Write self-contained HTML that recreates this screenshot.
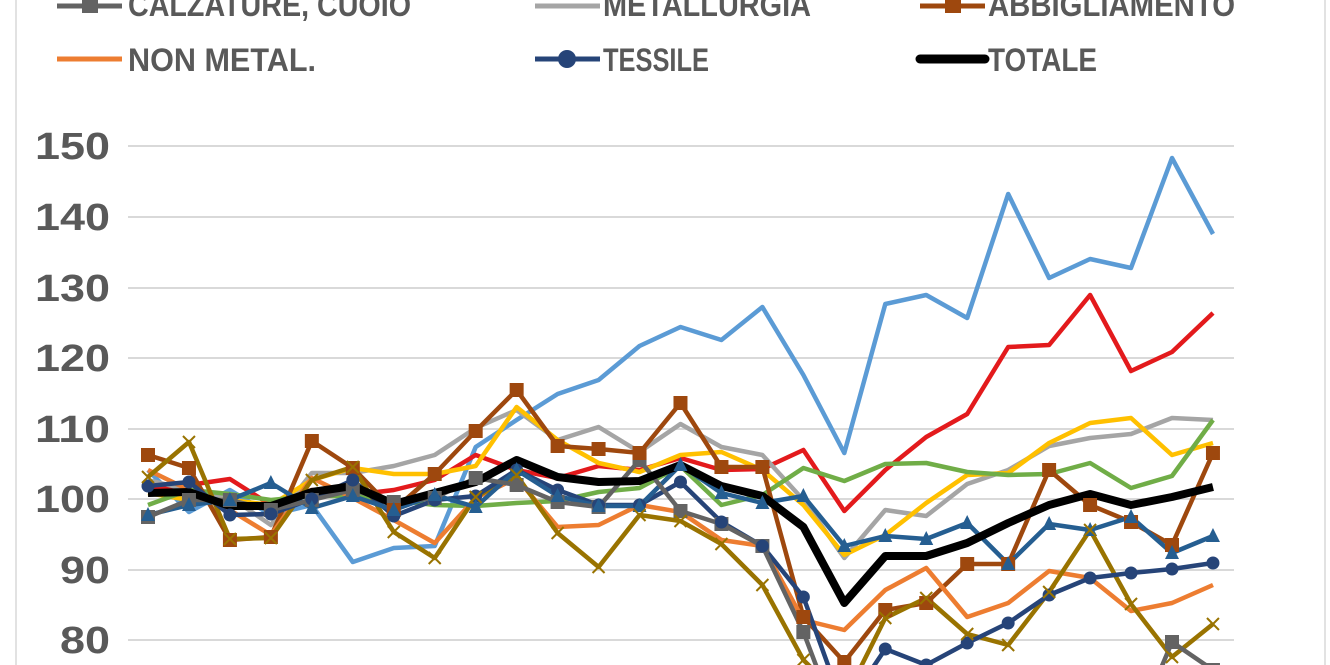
<!DOCTYPE html>
<html><head><meta charset="utf-8"><style>
html,body{margin:0;padding:0;background:#fff;width:1330px;height:665px;overflow:hidden;}
svg{display:block;}
text{font-family:"Liberation Sans",sans-serif;font-weight:bold;fill:#595959;}
</style></head><body>
<svg width="1330" height="665" viewBox="0 0 1330 665" xmlns="http://www.w3.org/2000/svg">
<rect x="0" y="0" width="1330" height="665" fill="#fff"/>
<line x1="16" y1="0" x2="16" y2="665" stroke="#d9d9d9" stroke-width="1.5"/>
<line x1="1325" y1="0" x2="1325" y2="665" stroke="#d9d9d9" stroke-width="1.5"/>
<g stroke="#d9d9d9" stroke-width="2">
<line x1="128" x2="1234" y1="146" y2="146"/>
<line x1="128" x2="1234" y1="217" y2="217"/>
<line x1="128" x2="1234" y1="288" y2="288"/>
<line x1="128" x2="1234" y1="358" y2="358"/>
<line x1="128" x2="1234" y1="429" y2="429"/>
<line x1="128" x2="1234" y1="499" y2="499"/>
<line x1="128" x2="1234" y1="570" y2="570"/>
<line x1="128" x2="1234" y1="640" y2="640"/>
</g>
<g font-size="38">
<text x="35" y="159" textLength="75" lengthAdjust="spacingAndGlyphs">150</text>
<text x="35" y="230" textLength="75" lengthAdjust="spacingAndGlyphs">140</text>
<text x="35" y="301" textLength="75" lengthAdjust="spacingAndGlyphs">130</text>
<text x="35" y="371" textLength="75" lengthAdjust="spacingAndGlyphs">120</text>
<text x="35" y="442" textLength="75" lengthAdjust="spacingAndGlyphs">110</text>
<text x="35" y="512" textLength="75" lengthAdjust="spacingAndGlyphs">100</text>
<text x="60" y="583" textLength="50" lengthAdjust="spacingAndGlyphs">90</text>
<text x="60" y="653" textLength="50" lengthAdjust="spacingAndGlyphs">80</text>
</g>
<g font-size="32">
<line x1="57" x2="122" y1="6" y2="6" stroke="#636363" stroke-width="5"/><rect x="82" y="-3" width="16" height="16" fill="#636363"/>
<text x="128" y="16" textLength="283" lengthAdjust="spacingAndGlyphs">CALZATURE, CUOIO</text>
<line x1="535" x2="600" y1="6" y2="6" stroke="#a5a5a5" stroke-width="5"/>
<text x="603" y="16" textLength="208" lengthAdjust="spacingAndGlyphs">METALLURGIA</text>
<line x1="920" x2="985" y1="6" y2="6" stroke="#9e480e" stroke-width="5"/><rect x="945" y="-3" width="16" height="16" fill="#9e480e"/>
<text x="988" y="16" textLength="247" lengthAdjust="spacingAndGlyphs">ABBIGLIAMENTO</text>
<line x1="57" x2="122" y1="59" y2="59" stroke="#ed7d31" stroke-width="5"/>
<text x="128" y="71" textLength="188" lengthAdjust="spacingAndGlyphs">NON METAL.</text>
<line x1="535" x2="600" y1="59" y2="59" stroke="#264478" stroke-width="5"/><circle cx="567" cy="59" r="9" fill="#264478"/>
<text x="603" y="71" textLength="106" lengthAdjust="spacingAndGlyphs">TESSILE</text>
<line x1="920" x2="985" y1="59" y2="59" stroke="#000" stroke-width="9" stroke-linecap="round"/>
<text x="988" y="71" textLength="109" lengthAdjust="spacingAndGlyphs">TOTALE</text>
</g>
<defs>
<clipPath id="c"><rect x="0" y="90" width="1330" height="575"/></clipPath>
</defs>
<g clip-path="url(#c)" fill="none" stroke-linejoin="round" stroke-width="4.5">
<polyline id="lb" stroke="#5b9bd5" points=""/>
<polyline id="rd" stroke="#e31a1c" points=""/>
<polyline id="gy" stroke="#a5a5a5" points=""/>
<polyline id="yl" stroke="#ffc000" points=""/>
<polyline id="gr" stroke="#70ad47" points=""/>
<polyline id="ab" stroke="#9e480e" points=""/>
<polyline id="nm" stroke="#ed7d31" points=""/>
<polyline id="ol" stroke="#997300" points=""/>
<polyline id="ts" stroke="#264478" points=""/>
<polyline id="tr" stroke="#255e91" points=""/>
<polyline id="cz" stroke="#636363" points=""/>
<polyline id="tot" stroke="#000" stroke-width="8" points=""/>
<g id="mk"></g>
</g>
</svg>
<script>
var X=[];for(var i=0;i<27;i++)X.push(148+i*40.96);
var D={
lb:[470,512,490,515,505,562,548,546,447,420,394,380,346,327,340,307,375,453,304,295,318,194,278,259,268,158,234],
rd:[490,485,479,505,490,495,490,480,455,470,478,466,470,458,470,469,450,511,470,437,414,347,345,295,371,352,313],
gy:[480,490,497,525,473,473,466,455,428,410,440,427,452,424,447,455,500,558,510,516,484,470,446,438,434,418,420],
yl:[493,500,500,505,480,468,474,474,466,407,440,463,472,455,452,470,505,555,535,503,475,473,443,423,418,455,443],
gr:[505,490,494,500,496,496,500,505,506,503,501,492,488,466,505,495,468,481,464,463,472,475,474,463,488,476,420],
ab:[455,468,540,537,441,468,510,474,431,390,446,449,453,403,467,467,617,662,610,603,564,564,470,505,522,545,453],
nm:[470,490,510,535,478,498,520,543,498,478,527,525,505,512,540,546,620,630,590,568,617,603,571,578,611,603,585],
ol:[477,442,539,538,480,467,532,558,497,475,533,567,515,521,544,585,660,700,618,598,634,645,592,530,604,657,624],
ts:[486,482,515,514,499,480,516,500,496,470,490,505,505,482,522,546,597,710,649,665,643,623,595,578,573,569,563],
tr:[515,505,500,483,508,496,510,495,507,470,496,506,506,465,493,503,496,546,536,539,523,564,524,530,517,553,536],
cz:[517,500,500,510,500,490,502,498,478,485,502,507,460,511,524,546,632,740,760,760,760,760,760,760,740,642,670],
tot:[493,492,506,506,492,486,504,493,482,460,477,482,481,465,486,496,527,603,556,556,543,523,505,494,505,497,487]
};
for(var k in D){document.getElementById(k).setAttribute('points',D[k].map(function(y,i){return X[i].toFixed(1)+','+y}).join(' '));}
var ns='http://www.w3.org/2000/svg',mk=document.getElementById('mk');
function el(t,a){var e=document.createElementNS(ns,t);for(var q in a)e.setAttribute(q,a[q]);mk.appendChild(e);}
for(var i=0;i<27;i++){
 el('rect',{x:X[i]-7,y:D.cz[i]-7,width:14,height:14,fill:'#636363',stroke:'none'});
 el('rect',{x:X[i]-7,y:D.ab[i]-7,width:14,height:14,fill:'#9e480e',stroke:'none'});
 el('circle',{cx:X[i],cy:D.ts[i],r:6.5,fill:'#264478',stroke:'none'});
 el('polygon',{points:(X[i]-7)+','+(D.tr[i]+6)+' '+(X[i]+7)+','+(D.tr[i]+6)+' '+X[i]+','+(D.tr[i]-8),fill:'#255e91',stroke:'none'});
 var y=D.ol[i];el('path',{d:'M'+(X[i]-6)+','+(y-6)+'L'+(X[i]+6)+','+(y+6)+'M'+(X[i]-6)+','+(y+6)+'L'+(X[i]+6)+','+(y-6),stroke:'#997300','stroke-width':2});
}
</script>
</body></html>
